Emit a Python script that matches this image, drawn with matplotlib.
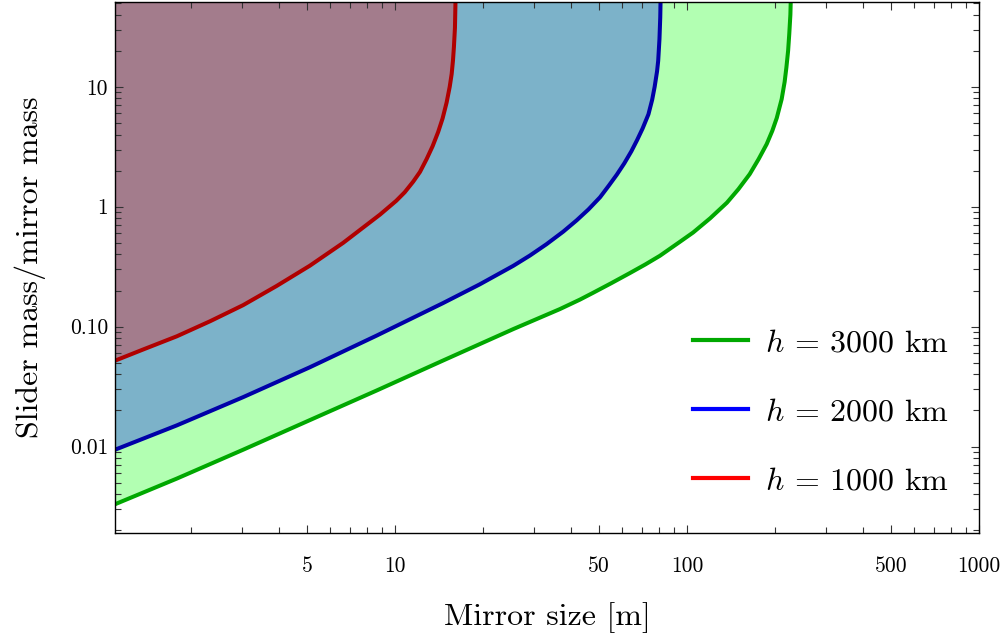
import numpy as np
import matplotlib.pyplot as plt
from matplotlib.lines import Line2D
from matplotlib.ticker import FixedLocator, NullFormatter

plt.rcParams['font.family'] = 'serif'
plt.rcParams['font.serif'] = ['cmr10', 'DejaVu Serif']
plt.rcParams['mathtext.fontset'] = 'cm'
plt.rcParams['axes.unicode_minus'] = False

# values (mirror size [m] vs slider/mirror mass ratio)
red_x = [1.1, 1.374, 1.79, 2.33, 3.02, 3.93, 5.11, 6.65, 8.89, 10.1, 10.8, 11.55, 12.18,
         12.84, 13.46, 14.06, 14.56, 15.03, 15.4, 15.64, 15.8, 15.92, 16.05, 16.14]
red_y = [0.052, 0.0645, 0.083, 0.111, 0.151, 0.218, 0.322, 0.50, 0.86, 1.12, 1.32, 1.62, 1.95,
         2.5, 3.2, 4.2, 5.45, 7.4, 10.0, 12.8, 16.5, 21.5, 31, 60]

blue_x = [1.1, 1.79, 3.02, 5.11, 8.65, 14.6, 19.5, 25.4, 29.0, 33.0, 37.7, 41.9, 46.0, 50.4,
          54.0, 57.5, 61.0, 64.5, 67.5, 70.5, 73.8, 76.0, 77.5, 79.0, 79.7, 80.5, 81.0, 81.3]
blue_y = [0.0094, 0.0150, 0.0258, 0.0458, 0.0841, 0.157, 0.225, 0.321, 0.392, 0.486, 0.62, 0.77,
          0.95, 1.2, 1.5, 1.85, 2.3, 2.9, 3.6, 4.5, 5.9, 7.8, 10.0, 13.5, 16.5, 25, 38, 60]

green_x = [1.1, 1.79, 3.02, 5.11, 8.65, 14.6, 25.5, 36.7, 43.0, 47.8, 55.0, 63.8, 72.0, 80.8,
           94.6, 105, 120, 137, 150, 164, 176, 187.5, 196, 203, 211, 216, 219, 222, 224, 226, 227]
green_y = [0.0033, 0.0054, 0.0094, 0.0166, 0.0293, 0.0521, 0.0957, 0.140, 0.168, 0.192, 0.23,
           0.28, 0.33, 0.39, 0.51, 0.61, 0.80, 1.08, 1.40, 1.87, 2.5, 3.33, 4.3, 5.5, 7.9, 11,
           14.5, 20, 27.5, 40, 60]

labels = [r'$h$ = 3000 km', r'$h$ = 2000 km', r'$h$ = 1000 km']
x_ticks = [5, 10, 50, 100, 500, 1000]
x_ticklabels = ['5', '10', '50', '100', '500', '1000']
y_ticks = [0.01, 0.1, 1, 10]
y_ticklabels = ['0.01', '0.10', '1', '10']

fig = plt.figure(figsize=(10.03, 6.40), dpi=100)
ax = fig.add_axes([115/1003, 1 - 533/640, (979 - 115)/1003, (533 - 2)/640])
ax.set_xscale('log')
ax.set_yscale('log')
ax.set_xlim(1.1, 1000)
ax.set_ylim(0.0019, 51)
top = 100

# filled regions above each curve
ax.fill_between(green_x, green_y, top, color=(0, 1, 0), alpha=0.3, lw=0)
ax.fill_between(blue_x, blue_y, top, color=(0, 0, 1), alpha=0.3, lw=0)
ax.fill_between(red_x, red_y, top, color=(1, 0, 0), alpha=0.3, lw=0)

ax.plot(green_x, green_y, color='#00a800', lw=2.9, solid_joinstyle='round')
ax.plot(blue_x, blue_y, color='#0000a8', lw=2.9, solid_joinstyle='round')
ax.plot(red_x, red_y, color='#b00000', lw=2.9, solid_joinstyle='round')

# ticks
ax.xaxis.set_major_locator(FixedLocator(x_ticks))
ax.set_xticklabels(x_ticklabels)
minor_x = [m * d for d in [1, 10, 100] for m in range(2, 10) if m * d not in x_ticks]
ax.xaxis.set_minor_locator(FixedLocator(minor_x))
ax.xaxis.set_minor_formatter(NullFormatter())

ax.yaxis.set_major_locator(FixedLocator(y_ticks))
ax.set_yticklabels(y_ticklabels)
minor_y = [m * d for d in [0.001, 0.01, 0.1, 1, 10] for m in range(2, 10)]
ax.yaxis.set_minor_locator(FixedLocator(minor_y))
ax.yaxis.set_minor_formatter(NullFormatter())

ax.tick_params(which='both', direction='in', top=True, right=True, color='#333333', width=0.8)
ax.tick_params(which='major', length=6)
ax.tick_params(which='minor', length=4)
ax.tick_params(axis='x', which='major', pad=17, labelsize=15.5)
ax.tick_params(axis='y', which='major', pad=5, labelsize=15.5)
for s in ax.spines.values():
    s.set_linewidth(1.0)

ax.set_xlabel('Mirror size [m]', fontsize=23)
ax.xaxis.set_label_coords(0.5, (533 - 618) / 531)
ax.xaxis.label.set_va('center')
ax.set_ylabel('Slider mass/mirror mass', fontsize=23)
ax.yaxis.set_label_coords((30 - 115) / 864, 0.5)
ax.yaxis.label.set_va('center')

handles = [Line2D([], [], color='#00a800', lw=3),
           Line2D([], [], color='#0000ff', lw=3),
           Line2D([], [], color='#ff0000', lw=3)]
fig.legend(handles, labels, loc='upper left', bbox_to_anchor=(693/1003, 1 - 329/640),
           frameon=False, fontsize=23, handlelength=1.72, handletextpad=0.52,
           labelspacing=1.27, borderpad=0, borderaxespad=0)

plt.savefig('out.png', dpi=100)
